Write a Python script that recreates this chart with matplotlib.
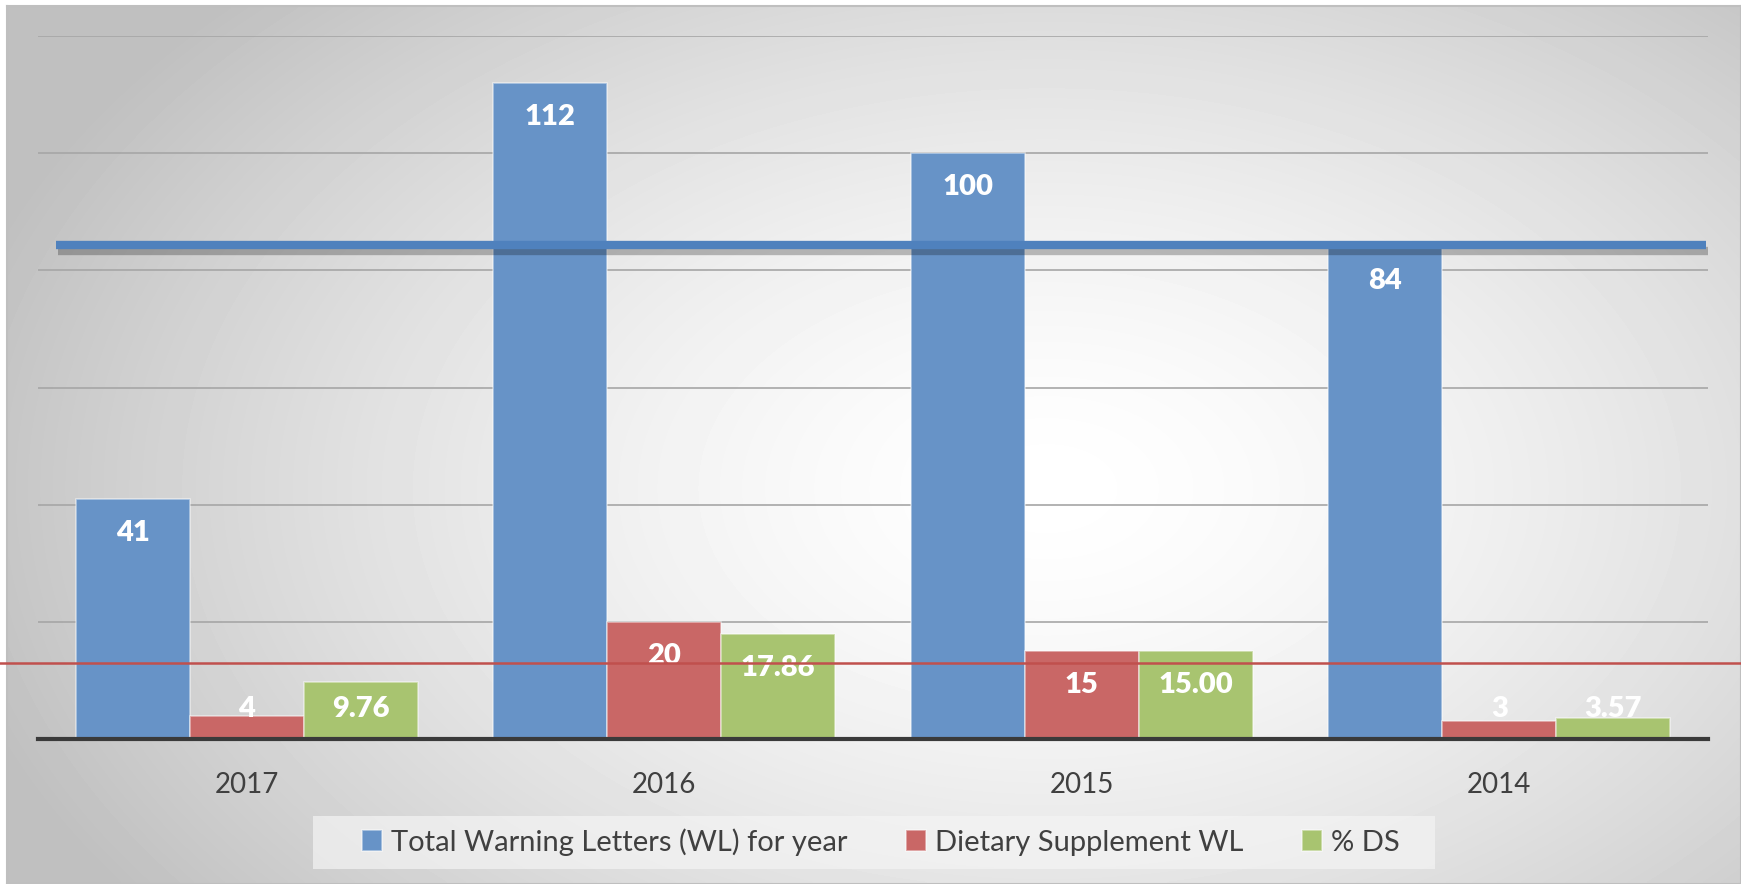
import numpy as np
import matplotlib.pyplot as plt
from matplotlib import patheffects
from matplotlib.patches import Rectangle

plt.rcParams['font.family'] = ['Lato', 'DejaVu Sans']

# data
years = ['2017', '2016', '2015', '2014']
total_wl = [41, 112, 100, 84]
ds_wl = [4, 20, 15, 3]
pct_ds = [9.76, 17.86, 15.00, 3.57]
pct_labels = ['9.76', '17.86', '15.00', '3.57']
red_line_value = 13  # hand-drawn red line

avg_total = np.mean(total_wl)

fig = plt.figure(figsize=(17.41, 8.84), dpi=100)

# radial grey background
bg = fig.add_axes([7 / 1741, 0, 1 - 7 / 1741, 1 - 6 / 884])
gx, gy = np.meshgrid(np.linspace(0, 1, 400), np.linspace(0, 1, 200))
r = np.sqrt(((gx - 0.6) / 0.8) ** 2 + ((gy - 0.55) / 1.0) ** 2)
shade = np.clip(1.0 - 0.34 * r ** 1.5, 0.75, 1.0)
bg.imshow(shade, cmap='gray', vmin=0, vmax=1, aspect='auto',
          extent=[0, 1, 0, 1], origin='upper', interpolation='bilinear')
bg.set_xticks([])
bg.set_yticks([])
for s in bg.spines.values():
    s.set_color('#bfbfbf')
    s.set_linewidth(1.5)

ax = fig.add_axes([38 / 1741, 1 - 739 / 884, 1670 / 1741, (739 - 36) / 884])
ax.patch.set_alpha(0)

x = np.arange(len(years))
w = 0.273
series = [(total_wl, '#6793C7', 'Total Warning Letters (WL) for year'),
          (ds_wl, '#C96766', 'Dietary Supplement WL'),
          (pct_ds, '#A8C470', '% DS')]

for i, (vals, col, name) in enumerate(series):
    ax.bar(x + (i - 1) * w, vals, w, color=col, edgecolor=(1, 1, 1, 0.5),
           linewidth=1.2, label=name, zorder=3)

# data labels, inside end (kept above the axis for short bars)
label_sets = [[str(v) for v in total_wl], [str(v) for v in ds_wl], pct_labels]
for i, (vals, col, name) in enumerate(series):
    for xi, v, txt in zip(x, vals, label_sets[i]):
        ax.text(xi + (i - 1) * w, max(v - 5.8, 5.1), txt, ha='center', va='center',
                color='white', fontsize=21, fontweight='heavy', zorder=5)

# average line with shadow
ax.axhline(avg_total, xmin=0.011, xmax=0.999, color='#4F81BD', lw=6, zorder=6,
           solid_capstyle='butt',
           path_effects=[patheffects.SimpleLineShadow(offset=(1, -4), shadow_color='black', alpha=0.25),
                         patheffects.Normal()])
ax.axhline(red_line_value, xmin=-0.03, xmax=1.03, color='#C0504D', lw=1.8,
           zorder=6, clip_on=False)

ax.set_xlim(-0.5, 3.5)
ax.set_ylim(0, 120)
ax.set_yticks(np.arange(20, 121, 20))
ax.yaxis.grid(True, color='#a6a6a6', lw=1.2, zorder=0)
ax.set_yticklabels([])
ax.tick_params(axis='y', length=0)
ax.set_xticks(x)
ax.set_xticklabels(years, fontsize=20, color='#404040')
ax.tick_params(axis='x', length=0, pad=24)
for s in ['top', 'right', 'left']:
    ax.spines[s].set_visible(False)
ax.spines['bottom'].set_color('#3a3a3a')
ax.spines['bottom'].set_linewidth(3)
ax.spines['bottom'].set_zorder(7)

# legend box (wider than the legend itself)
fig.patches.append(Rectangle((313 / 1741, 15 / 884), 1122 / 1741, 53 / 884,
                             transform=fig.transFigure, facecolor='#f4f4f4',
                             alpha=0.7, edgecolor='none', zorder=1))
leg = fig.legend(loc='center', bbox_to_anchor=(0.506, 0.0475), ncol=3, fontsize=21,
                 frameon=False, handlelength=0.7, handleheight=0.7,
                 handletextpad=0.3, columnspacing=2.0)
for t in leg.get_texts():
    t.set_color('#404040')

fig.savefig('out.png', dpi=100)
